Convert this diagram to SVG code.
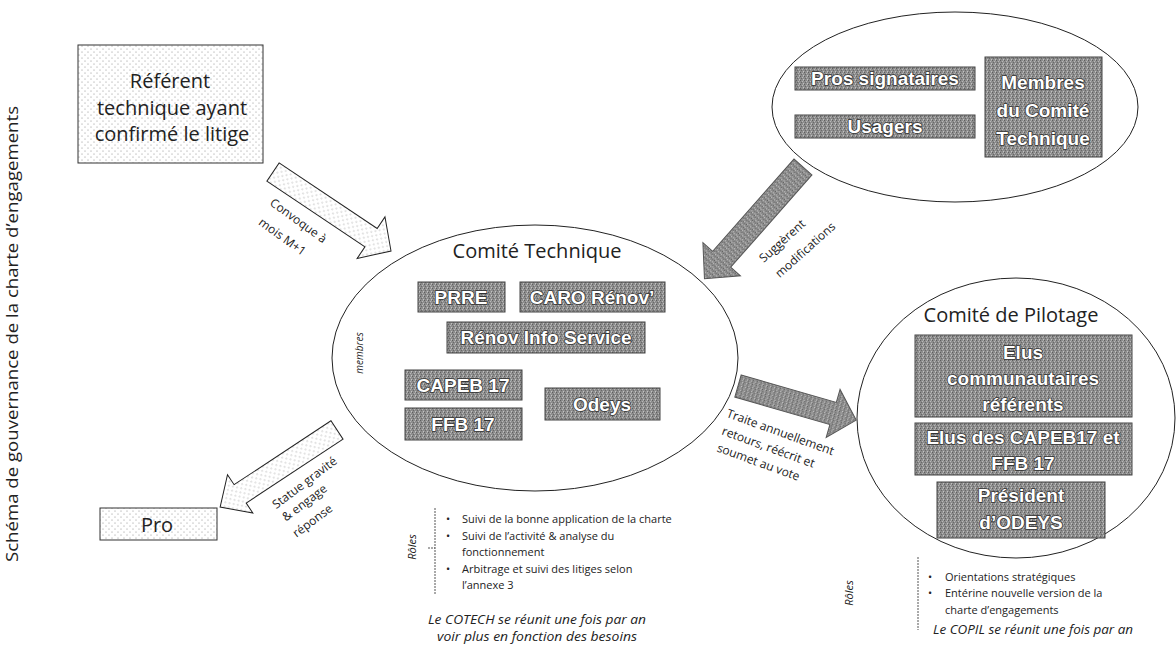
<svg xmlns="http://www.w3.org/2000/svg" width="1176" height="648" viewBox="0 0 1176 648">
<defs>
<pattern id="dots" width="6" height="6" patternUnits="userSpaceOnUse"><rect width="6" height="6" fill="#fff"/><circle cx="1" cy="1" r="0.55" fill="#8a8a8a"/><circle cx="4" cy="4" r="0.55" fill="#8a8a8a"/></pattern>
<pattern id="grain" width="4" height="4" patternUnits="userSpaceOnUse"><rect width="4" height="4" fill="#8c8c8c"/><rect x="0" y="0" width="1" height="1" fill="#5e5e5e"/><rect x="2" y="1" width="1" height="1" fill="#b8b8b8"/><rect x="1" y="2" width="1" height="1" fill="#686868"/><rect x="3" y="3" width="1" height="1" fill="#c2c2c2"/><rect x="3" y="0" width="1" height="1" fill="#a5a5a5"/></pattern>
<style>
.lbox{fill:url(#dots);stroke:#333;stroke-width:1}
.gbox{fill:url(#grain);stroke:#444;stroke-width:1}
.gt{font-family:"Liberation Sans",Arial,sans-serif;font-weight:bold;font-size:19px;fill:#fff;stroke:#333;stroke-width:1.6;paint-order:stroke;text-anchor:middle}
.ell{fill:none;stroke:#222;stroke-width:1}
.t{font-family:"Open Sans","Noto Sans",sans-serif;fill:#222}
.big{font-size:20px;text-anchor:middle}
.sm{font-size:12px}
.it{font-style:italic}
.darr{fill:url(#dots);stroke:#222;stroke-width:1}
.garr{fill:url(#grain);stroke:#555;stroke-width:1}
.br{stroke:#555;stroke-width:1;stroke-dasharray:2 1;fill:none}
</style>
</defs>
<rect width="1176" height="648" fill="#fff"/>

<text class="t" font-size="16" transform="translate(18,334) rotate(-90)" text-anchor="middle" textLength="456" lengthAdjust="spacingAndGlyphs">Schéma de gouvernance de la charte d’engagements</text>

<g id="referent">
<rect class="lbox" x="78" y="45" width="185" height="118"/>
<text class="t big" font-size="21" x="170" y="88">Référent</text>
<text class="t big" font-size="21" x="172" y="115">technique ayant</text>
<text class="t big" font-size="21" x="172" y="141">confirmé le litige</text>
</g>

<g id="pro">
<rect class="lbox" x="100" y="508" width="117" height="32"/>
<text class="t big" x="157" y="532">Pro</text>
</g>

<g id="cotech">
<ellipse class="ell" cx="535" cy="358" rx="203" ry="133"/>
<text class="t big" x="537" y="258">Comité Technique</text>
<text class="t it" font-size="10" transform="translate(363,353) rotate(-90)" text-anchor="middle">membres</text>
<rect class="gbox" x="418" y="282" width="87" height="30"/>
<text class="gt" x="461" y="304">PRRE</text>
<rect class="gbox" x="520" y="282" width="145" height="30"/>
<text class="gt" x="592" y="304">CARO Rénov’</text>
<rect class="gbox" x="447" y="322" width="198" height="31"/>
<text class="gt" x="546" y="344">Rénov Info Service</text>
<rect class="gbox" x="405" y="370" width="117" height="30"/>
<text class="gt" x="463" y="392">CAPEB 17</text>
<rect class="gbox" x="405" y="408" width="117" height="32"/>
<text class="gt" x="463" y="431">FFB 17</text>
<rect class="gbox" x="545" y="388" width="115" height="32"/>
<text class="gt" x="602" y="411">Odeys</text>
</g>

<g id="cotech-roles">
<text class="t it" font-size="11" transform="translate(416,547) rotate(-90)" text-anchor="middle">Rôles</text>
<path class="br" d="M435,508 V595 M428,548 H435"/>
<g class="t" font-size="11">
<text x="446" y="523">•</text><text x="462" y="523">Suivi de la bonne application de la charte</text>
<text x="446" y="540">•</text><text x="462" y="540">Suivi de l’activité &amp; analyse du</text>
<text x="462" y="556">fonctionnement</text>
<text x="446" y="573">•</text><text x="462" y="573">Arbitrage et suivi des litiges selon</text>
<text x="462" y="589">l’annexe 3</text>
</g>
<text class="t it" font-size="12" x="537" y="624" text-anchor="middle" textLength="218" lengthAdjust="spacingAndGlyphs">Le COTECH se réunit une fois par an</text>
<text class="t it" font-size="12" x="537" y="641" text-anchor="middle" textLength="200" lengthAdjust="spacingAndGlyphs">voir plus en fonction des besoins</text>
</g>

<g id="suggestions">
<ellipse class="ell" cx="955" cy="107" rx="183" ry="95"/>
<rect class="gbox" x="795" y="67" width="180" height="23"/>
<text class="gt" x="885" y="85">Pros signataires</text>
<rect class="gbox" x="795" y="115" width="180" height="23"/>
<text class="gt" x="885" y="133">Usagers</text>
<rect class="gbox" x="985" y="57" width="117" height="100"/>
<text class="gt" font-size="20" x="1043" y="89">Membres</text>
<text class="gt" font-size="20" x="1043" y="117">du Comité</text>
<text class="gt" font-size="20" x="1043" y="145">Technique</text>
</g>

<g id="copil">
<ellipse class="ell" cx="1016" cy="418" rx="159" ry="140"/>
<text class="t big" x="1011" y="322">Comité de Pilotage</text>
<rect class="gbox" x="915" y="335" width="217" height="82"/>
<text class="gt" font-size="20" x="1023" y="359">Elus</text>
<text class="gt" font-size="20" x="1023" y="385">communautaires</text>
<text class="gt" font-size="20" x="1023" y="411">référents</text>
<rect class="gbox" x="915" y="423" width="217" height="52"/>
<text class="gt" font-size="20" x="1023" y="444">Elus des CAPEB17 et</text>
<text class="gt" font-size="20" x="1023" y="470">FFB 17</text>
<rect class="gbox" x="937" y="482" width="168" height="56"/>
<text class="gt" font-size="20" x="1021" y="502">Président</text>
<text class="gt" font-size="20" x="1021" y="529">d’ODEYS</text>
</g>

<g id="copil-roles">
<text class="t it" font-size="11" transform="translate(853,593) rotate(-90)" text-anchor="middle">Rôles</text>
<path class="br" d="M918,557 V630"/>
<g class="t" font-size="11">
<text x="928" y="581">•</text><text x="945" y="581">Orientations stratégiques</text>
<text x="928" y="597">•</text><text x="945" y="597">Entérine nouvelle version de la</text>
<text x="945" y="614">charte d’engagements</text>
</g>
<text class="t it" font-size="12" x="1033" y="634" text-anchor="middle" textLength="200" lengthAdjust="spacingAndGlyphs">Le COPIL se réunit une fois par an</text>
</g>

<g id="connectors">
<path class="darr" transform="translate(273,172) rotate(33.8)" d="M0,-11 L118,-11 L118,-25 L142,0 L118,25 L118,11 L0,11 Z"/>
<g class="t sm" text-anchor="middle">
<text transform="translate(296,224) rotate(36)">Convoque à</text>
<text transform="translate(280,240) rotate(36)">mois M+1</text>
</g>
<path class="garr" transform="translate(803,167) rotate(131.4)" d="M0,-12 L123,-12 L123,-25 L149,0 L123,25 L123,12 L0,12 Z"/>
<g class="t sm" text-anchor="middle">
<text transform="translate(785,244) rotate(-42)">Suggèrent</text>
<text transform="translate(808,253) rotate(-42)">modifications</text>
</g>
<path class="garr" transform="translate(738,386) rotate(16.1)" d="M0,-11.5 L99,-11.5 L99,-25 L123,0 L99,25 L99,11.5 L0,11.5 Z"/>
<g class="t sm" text-anchor="middle">
<text transform="translate(779,436) rotate(20)">Traite annuellement</text>
<text transform="translate(767,451) rotate(20)">retours, réécrit et</text>
<text transform="translate(757,466) rotate(20)">soumet au vote</text>
</g>
<path class="darr" transform="translate(337,430) rotate(146.6)" d="M0,-11 L116,-11 L116,-23 L140,0 L116,23 L116,11 L0,11 Z"/>
<g class="t sm" text-anchor="middle">
<text transform="translate(307,486) rotate(-37)">Statue gravité</text>
<text transform="translate(307,506) rotate(-37)">&amp; engage</text>
<text transform="translate(315,524) rotate(-37)">réponse</text>
</g>
</g>
</svg>
